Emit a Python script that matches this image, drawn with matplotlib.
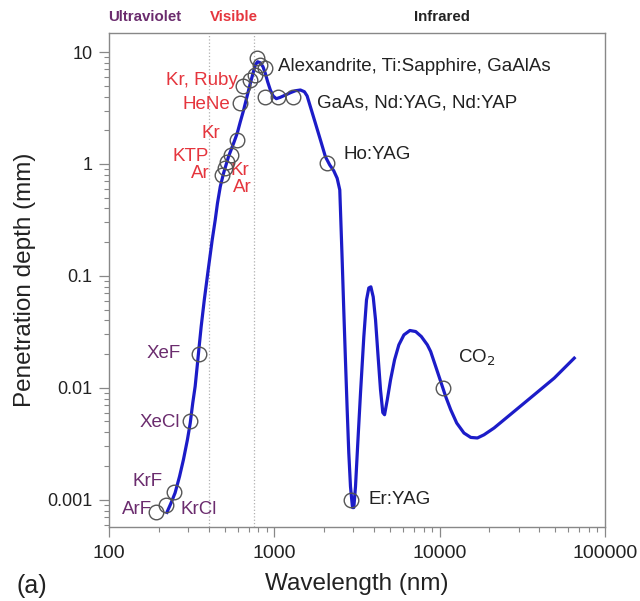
import matplotlib
matplotlib.use("Agg")
import matplotlib.pyplot as plt

plt.rcParams['font.family'] = ['Liberation Sans', 'DejaVu Sans']

# Penetration depth curve (wavelength nm, depth mm)
curve_wl = [224, 237, 251, 267, 282, 298, 310, 321, 332, 343, 351, 361, 377, 398,
            421, 439, 453, 471, 493, 528, 567, 597, 622, 652, 683, 716, 743, 767,
            792, 822, 854, 882, 911, 946, 983, 1028, 1087, 1166, 1250, 1340, 1438,
            1520, 1579, 1652, 1772, 1900, 2037, 2163, 2287, 2399, 2488, 2512, 2572,
            2630, 2692, 2758, 2820, 2888, 2970, 3025, 3097, 3198, 3321, 3477, 3610,
            3728, 3836, 3963, 4093, 4227, 4387, 4530, 4642, 4820, 5047, 5337, 5665,
            6080, 6607, 7160, 7745, 8420, 8820, 9460, 10140, 10870, 11660, 12680,
            14030, 15420, 16910, 18540, 21330, 28180, 37320, 49310, 65160]
curve_depth = [0.00077, 0.00093, 0.00115, 0.00161, 0.00228, 0.00343, 0.00484,
               0.0073, 0.0103, 0.0166, 0.0234, 0.0352, 0.061, 0.113, 0.21, 0.316,
               0.446, 0.627, 0.826, 1.16, 1.53, 1.89, 2.37, 3.03, 3.99, 5.26, 6.45,
               7.66, 8.19, 8.02, 7.39, 6.45, 5.43, 4.58, 4.05, 3.83, 3.94, 4.13,
               4.33, 4.51, 4.58, 4.42, 4.05, 3.25, 2.31, 1.64, 1.16, 0.98, 0.87,
               0.745, 0.586, 0.388, 0.139, 0.0497, 0.0178, 0.00637, 0.00263,
               0.00131, 0.00085, 0.00085, 0.00131, 0.00323, 0.009, 0.0285, 0.061,
               0.078, 0.0798, 0.0649, 0.0405, 0.0205, 0.0096, 0.006, 0.00574,
               0.0078, 0.0118, 0.0178, 0.0242, 0.0297, 0.0325, 0.0318, 0.0287,
               0.0242, 0.0211, 0.0155, 0.0114, 0.00836, 0.00637, 0.00484, 0.00394,
               0.0036, 0.00356, 0.0038, 0.00437, 0.00614, 0.00866, 0.0122, 0.0184]

# Laser markers (wavelength nm, depth mm)
laser_wl = [193, 222, 248, 308, 351, 484, 505, 519, 548, 597, 622, 649, 716, 768,
            789, 822, 882, 882, 1057, 1304, 2070, 2890, 10420]
laser_depth = [0.00078, 0.0009, 0.00118, 0.005, 0.02, 0.80, 0.92, 1.04, 1.2, 1.64,
               3.5, 5.0, 5.6, 6.2, 8.8, 7.65, 7.2, 3.96, 3.96, 3.96, 1.02, 0.001,
               0.01]

red = '#e5353d'
purple = '#6b2c6e'
black = '#222222'

# label text, wavelength, depth, alignment, colour
labels = [
    ("Kr, Ruby", 597, 5.62, 'right', red),
    ("HeNe", 541, 3.43, 'right', red),
    ("Kr", 471, 1.89, 'right', red),
    ("KTP", 404, 1.155, 'right', red),
    ("Ar", 409, 0.83, 'right', red),
    ("Kr", 541, 0.88, 'left', red),
    ("Ar", 565, 0.61, 'left', red),
    ("Alexandrite, Ti:Sapphire, GaAlAs", 1057, 7.5, 'left', black),
    ("GaAs, Nd:YAG, Nd:YAP", 1823, 3.5, 'left', black),
    ("Ho:YAG", 2618, 1.21, 'left', black),
    ("CO$_2$", 12850, 0.0185, 'left', black),
    ("Er:YAG", 3716, 0.001, 'left', black),
    ("XeF", 273, 0.0203, 'right', purple),
    ("XeCl", 269, 0.0049, 'right', purple),
    ("KrF", 212, 0.00146, 'right', purple),
    ("ArF", 182, 0.00081, 'right', purple),
    ("KrCl", 269, 0.00081, 'left', purple),
]

fig = plt.figure(figsize=(6.4, 6.01), dpi=100)
ax = fig.add_axes([109/640, 1 - 527/601, (605-109)/640, (527-33)/601])

ax.set_xscale('log')
ax.set_yscale('log')
ax.set_xlim(100, 100000)
ax.set_ylim(0.00057, 14.8)

for xv in (400, 750):
    ax.axvline(xv, color='#b0b0b0', lw=0.9, ls=':', zorder=0)

ax.plot(curve_wl, curve_depth, color='#1c1cc8', lw=2.3, zorder=3,
        solid_joinstyle='round')
ax.plot(laser_wl, laser_depth, ls='none', marker='o', ms=10.5, mfc='none',
        mec='#555555', mew=1.0, zorder=4)

for txt, xv, yv, ha, col in labels:
    ax.text(xv, yv, txt, ha=ha, va='center', color=col, fontsize=13.5)

ax.set_xticks([100, 1000, 10000, 100000])
ax.set_xticklabels(['100', '1000', '10000', '100000'])
ax.set_yticks([0.001, 0.01, 0.1, 1, 10])
ax.set_yticklabels(['0.001', '0.01', '0.1', '1', '10'])
ax.tick_params(which='major', direction='out', length=7, width=0.9, color='#888888',
               labelcolor='#222222', pad=5)
ax.tick_params(axis='x', which='major', labelsize=14, pad=6)
ax.tick_params(axis='y', which='major', labelsize=13)
ax.tick_params(which='minor', direction='out', length=3.5, width=0.8, color='#888888')
for s in ax.spines.values():
    s.set_color('#888888')
    s.set_linewidth(1.0)

ax.set_xlabel('Wavelength (nm)', fontsize=17.5, color='#222222', labelpad=8)
ax.set_ylabel('Penetration depth (mm)', fontsize=17.5, color='#222222', labelpad=8)

fig.text(145/640, 1 - 17/601, 'Ultraviolet', color=purple, fontsize=10.8,
         fontweight='bold', ha='center', va='center')
fig.text(234/640, 1 - 17/601, 'Visible', color=red, fontsize=10.8,
         fontweight='bold', ha='center', va='center')
fig.text(442/640, 1 - 17/601, 'Infrared', color=black, fontsize=10.8,
         fontweight='bold', ha='center', va='center')
fig.text(16/640, 1 - 586/601, '(a)', color='#222222', fontsize=18, ha='left', va='center')

fig.savefig('out.png', dpi=100, facecolor='white')
